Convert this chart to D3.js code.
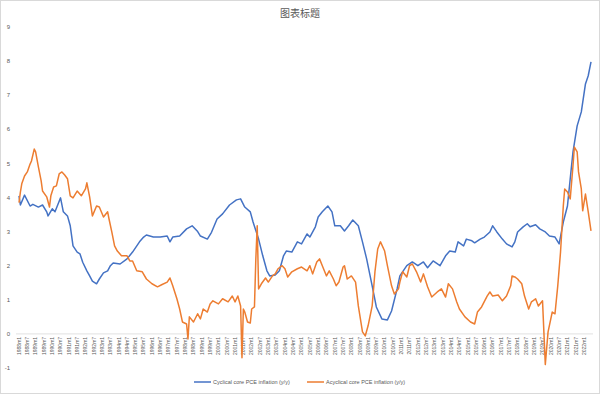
<!DOCTYPE html>
<html>
<head>
<meta charset="utf-8">
<script src="https://cdn.jsdelivr.net/npm/d3@7"></script>
<style>
  body { margin: 0; background: #fff; }
  text { font-family: "Liberation Sans", "Noto Sans CJK SC", sans-serif; fill: #595959; }
</style>
</head>
<body>
<div id="chart"></div>
<script>
// Cyclical core PCE inflation (y/y)
const cyclical = [
    ["1988m1", 4.05], ["1988m2", 3.78], ["1988m5", 4.07], ["1988m9", 3.75], ["1988m11", 3.8],
    ["1989m3", 3.72], ["1989m6", 3.78], ["1989m9", 3.58], ["1989m10", 3.46], ["1990m1", 3.67],
    ["1990m3", 3.58], ["1990m7", 3.99], ["1990m9", 3.58], ["1990m12", 3.46], ["1991m2", 3.17],
    ["1991m4", 2.58], ["1991m7", 2.4], ["1991m9", 2.35], ["1991m11", 2.1], ["1992m2", 1.85],
    ["1992m4", 1.7], ["1992m6", 1.55], ["1992m9", 1.47], ["1992m11", 1.61], ["1993m2", 1.79],
    ["1993m5", 1.85], ["1993m7", 2.0], ["1993m9", 2.08], ["1994m2", 2.05], ["1994m7", 2.2],
    ["1994m11", 2.4], ["1995m4", 2.7], ["1995m7", 2.84], ["1995m9", 2.9], ["1996m2", 2.84],
    ["1996m7", 2.84], ["1996m12", 2.87], ["1997m2", 2.7], ["1997m4", 2.84], ["1997m9", 2.87],
    ["1998m2", 3.08], ["1998m6", 3.17], ["1998m10", 3.0], ["1998m12", 2.87], ["1999m5", 2.78],
    ["1999m8", 2.98], ["1999m12", 3.37], ["2000m4", 3.52], ["2000m9", 3.78], ["2001m2", 3.93],
    ["2001m5", 3.96], ["2001m8", 3.72], ["2001m12", 3.58], ["2002m2", 3.28], ["2002m6", 2.78],
    ["2002m9", 2.29], ["2002m12", 1.85], ["2003m2", 1.7], ["2003m6", 1.73], ["2003m9", 1.85],
    ["2003m12", 2.29], ["2004m2", 2.43], ["2004m6", 2.4], ["2004m10", 2.7], ["2005m1", 2.64],
    ["2005m5", 2.93], ["2005m7", 2.84], ["2005m11", 3.14], ["2006m1", 3.43], ["2006m4", 3.58],
    ["2006m8", 3.75], ["2006m11", 3.58], ["2007m1", 3.17], ["2007m5", 3.17], ["2007m8", 3.02],
    ["2007m11", 3.17], ["2008m2", 3.34], ["2008m6", 3.17], ["2008m9", 2.7], ["2008m12", 2.2],
    ["2009m4", 1.41], ["2009m7", 0.79], ["2009m11", 0.44], ["2010m3", 0.41], ["2010m6", 0.67],
    ["2010m10", 1.32], ["2010m12", 1.7], ["2011m5", 2.0], ["2011m9", 2.11], ["2012m1", 2.0],
    ["2012m5", 2.11], ["2012m8", 1.94], ["2012m12", 2.14], ["2013m5", 2.0], ["2013m9", 2.29],
    ["2013m12", 2.43], ["2014m4", 2.4], ["2014m6", 2.7], ["2014m10", 2.58], ["2014m12", 2.78],
    ["2015m4", 2.73], ["2015m6", 2.67], ["2015m10", 2.78], ["2016m1", 2.84], ["2016m5", 2.99],
    ["2016m7", 3.17], ["2016m10", 2.99], ["2017m2", 2.78], ["2017m5", 2.64], ["2017m9", 2.55],
    ["2017m11", 2.7], ["2018m1", 2.99], ["2018m5", 3.14], ["2018m8", 3.23], ["2018m10", 3.14],
    ["2019m2", 3.2], ["2019m5", 3.08], ["2019m9", 2.99], ["2019m12", 2.87], ["2020m4", 2.84],
    ["2020m7", 2.64], ["2020m10", 3.28], ["2021m1", 3.75], ["2021m3", 4.55], ["2021m5", 5.34],
    ["2021m8", 6.1], ["2021m11", 6.51], ["2022m2", 7.33], ["2022m4", 7.57], ["2022m6", 7.98]
];

// Acyclical core PCE inflation (y/y)
const acyclical = [
    ["1988m1", 3.85], ["1988m2", 4.16], ["1988m3", 4.4], ["1988m5", 4.63], ["1988m7", 4.75],
    ["1988m9", 4.98], ["1988m10", 5.07], ["1988m12", 5.42], ["1989m1", 5.34], ["1989m3", 4.9],
    ["1989m5", 4.49], ["1989m6", 4.19], ["1989m9", 4.02], ["1989m11", 3.72], ["1989m12", 4.05],
    ["1990m2", 4.31], ["1990m4", 4.34], ["1990m6", 4.69], ["1990m8", 4.75], ["1990m10", 4.66],
    ["1990m12", 4.55], ["1991m2", 4.05], ["1991m4", 3.99], ["1991m7", 4.19], ["1991m10", 4.05],
    ["1992m1", 4.25], ["1992m2", 4.43], ["1992m4", 4.02], ["1992m6", 3.46], ["1992m9", 3.75],
    ["1992m11", 3.72], ["1993m2", 3.43], ["1993m5", 3.58], ["1993m6", 3.37], ["1993m8", 2.99],
    ["1993m10", 2.58], ["1993m12", 2.43], ["1994m3", 2.29], ["1994m7", 2.29], ["1994m9", 2.14],
    ["1994m11", 2.14], ["1995m2", 1.85], ["1995m6", 1.82], ["1995m9", 1.61], ["1996m1", 1.47],
    ["1996m5", 1.38], ["1996m8", 1.44], ["1996m12", 1.52], ["1997m2", 1.64], ["1997m4", 1.41],
    ["1997m7", 1.03], ["1997m9", 0.73], ["1997m11", 0.35], ["1998m2", 0.29], ["1998m3", -0.15],
    ["1998m4", 0.5], ["1998m7", 0.35], ["1998m10", 0.59], ["1998m12", 0.44], ["1999m2", 0.73],
    ["1999m5", 0.64], ["1999m7", 0.88], ["1999m9", 0.97], ["2000m1", 0.88], ["2000m4", 1.03],
    ["2000m8", 0.94], ["2000m11", 1.11], ["2001m1", 0.94], ["2001m3", 1.11], ["2001m5", 0.82],
    ["2001m6", -0.7], ["2001m7", 0.73], ["2001m8", 0.64], ["2001m10", 0.35], ["2001m12", 0.32],
    ["2002m1", 0.73], ["2002m3", 0.79], ["2002m4", 2.2], ["2002m5", 3.17], ["2002m6", 1.32],
    ["2002m8", 1.47], ["2002m11", 1.64], ["2003m1", 1.52], ["2003m4", 1.7], ["2003m6", 1.76],
    ["2003m8", 1.91], ["2003m11", 2.0], ["2004m1", 1.91], ["2004m3", 1.67], ["2004m6", 1.82],
    ["2004m10", 1.91], ["2005m1", 1.96], ["2005m5", 1.85], ["2005m7", 2.0], ["2005m9", 1.76],
    ["2005m12", 2.11], ["2006m2", 2.2], ["2006m4", 2.0], ["2006m7", 1.7], ["2006m9", 1.85],
    ["2006m12", 1.61], ["2007m2", 1.41], ["2007m4", 1.52], ["2007m7", 1.96], ["2007m8", 2.0],
    ["2007m10", 1.61], ["2008m1", 1.7], ["2008m4", 1.52], ["2008m6", 0.82], ["2008m9", 0.06],
    ["2008m11", -0.06], ["2009m1", 0.23], ["2009m4", 0.82], ["2009m6", 1.82], ["2009m8", 2.49],
    ["2009m10", 2.7], ["2010m1", 2.43], ["2010m3", 2.0], ["2010m6", 1.41], ["2010m8", 1.17],
    ["2010m11", 1.32], ["2010m12", 1.52], ["2011m2", 1.82], ["2011m5", 1.67], ["2011m7", 2.0],
    ["2011m9", 2.05], ["2011m12", 1.82], ["2012m3", 1.52], ["2012m5", 1.76], ["2012m8", 1.38],
    ["2012m11", 1.08], ["2013m3", 1.23], ["2013m6", 1.32], ["2013m9", 1.08], ["2013m11", 1.47],
    ["2014m2", 1.32], ["2014m5", 0.94], ["2014m7", 0.73], ["2014m11", 0.5], ["2015m3", 0.35],
    ["2015m6", 0.29], ["2015m8", 0.64], ["2015m11", 0.79], ["2016m3", 1.11], ["2016m5", 1.23],
    ["2016m7", 1.11], ["2016m11", 1.14], ["2017m2", 0.97], ["2017m5", 1.11], ["2017m8", 1.41],
    ["2017m9", 1.7], ["2017m11", 1.67], ["2018m1", 1.61], ["2018m4", 1.47], ["2018m6", 1.11],
    ["2018m9", 0.73], ["2018m11", 0.94], ["2019m2", 1.03], ["2019m4", 0.82], ["2019m7", 0.97],
    ["2019m9", -0.9], ["2019m11", 0.06], ["2020m2", 0.64], ["2020m4", 0.59], ["2020m6", 1.41],
    ["2020m8", 2.4], ["2020m10", 3.75], ["2020m11", 4.25], ["2021m1", 4.16], ["2021m3", 3.96],
    ["2021m5", 4.93], ["2021m6", 5.48], ["2021m8", 5.34], ["2021m9", 4.75], ["2021m11", 4.25],
    ["2021m12", 3.61], ["2022m2", 4.1], ["2022m4", 3.58], ["2022m6", 3.02]
];

const seriesNames = ["Cyclical core PCE inflation (y/y)", "Acyclical core PCE inflation (y/y)"];
const seriesColors = ["#4472C4", "#ED7D31"];
const yTicks = [-1, 0, 1, 2, 3, 4, 5, 6, 7, 8, 9];

// monthly categories 1988m1 .. 2022m6, labelled every 6 months
const months = [];
for (let yr = 1988; yr <= 2022; yr++) {
    for (let m = 1; m <= 12; m++) {
        if (yr === 2022 && m > 6) break;
        months.push(yr + "m" + m);
    }
}
const tickLabels = months.filter((d, i) => i % 6 === 0);

const width = 600, height = 394;

const svg = d3.select("#chart")
    .append("svg")
    .attr("width", width)
    .attr("height", height);

svg.append("rect")
    .attr("x", 0.5).attr("y", 0.5)
    .attr("width", width - 1).attr("height", height - 1)
    .attr("fill", "#fff")
    .attr("stroke", "#d9d9d9");

const x = d3.scalePoint()
    .domain(months)
    .range([19, 591]);

const y = d3.scaleLinear()
    .domain([-1, 9])
    .range([368, 27]);

// title
svg.append("text")
    .attr("x", 300)
    .attr("y", 17)
    .attr("text-anchor", "middle")
    .style("font-family", "'Noto Sans CJK SC', sans-serif")
    .style("font-size", "10px")
    .text("图表标题");

// y tick labels
svg.selectAll(".ylab")
    .data(yTicks)
    .enter()
    .append("text")
    .attr("class", "ylab")
    .attr("x", 10)
    .attr("y", d => y(d))
    .attr("dy", "0.35em")
    .attr("text-anchor", "end")
    .style("font-size", "6px")
    .text(d => d);

// horizontal axis line at zero
svg.append("line")
    .attr("x1", 16).attr("x2", 593)
    .attr("y1", y(0)).attr("y2", y(0))
    .attr("stroke", "#d9d9d9")
    .attr("stroke-width", 0.8);

// x tick labels, rotated
svg.selectAll(".xlab")
    .data(tickLabels)
    .enter()
    .append("text")
    .attr("class", "xlab")
    .attr("transform", d => `translate(${x(d) + 1.8},${y(0) + 3}) rotate(-90)`)
    .attr("text-anchor", "end")
    .style("font-size", "5px")
    .text(d => d);

const line = d3.line()
    .x(d => x(d[0]))
    .y(d => y(d[1]));

[cyclical, acyclical].forEach((s, i) => {
    svg.append("path")
        .datum(s)
        .attr("d", line)
        .attr("fill", "none")
        .attr("stroke", seriesColors[i])
        .attr("stroke-width", 1.5)
        .attr("stroke-linejoin", "round");
});

// legend
const legendX = [194, 307];
seriesNames.forEach((name, i) => {
    svg.append("line")
        .attr("x1", legendX[i]).attr("x2", legendX[i] + 17)
        .attr("y1", 382).attr("y2", 382)
        .attr("stroke", seriesColors[i])
        .attr("stroke-width", 1.5);
    svg.append("text")
        .attr("x", legendX[i] + 19)
        .attr("y", 382)
        .attr("dy", "0.35em")
        .style("font-size", "5.5px")
        .text(name);
});
</script>
</body>
</html>
